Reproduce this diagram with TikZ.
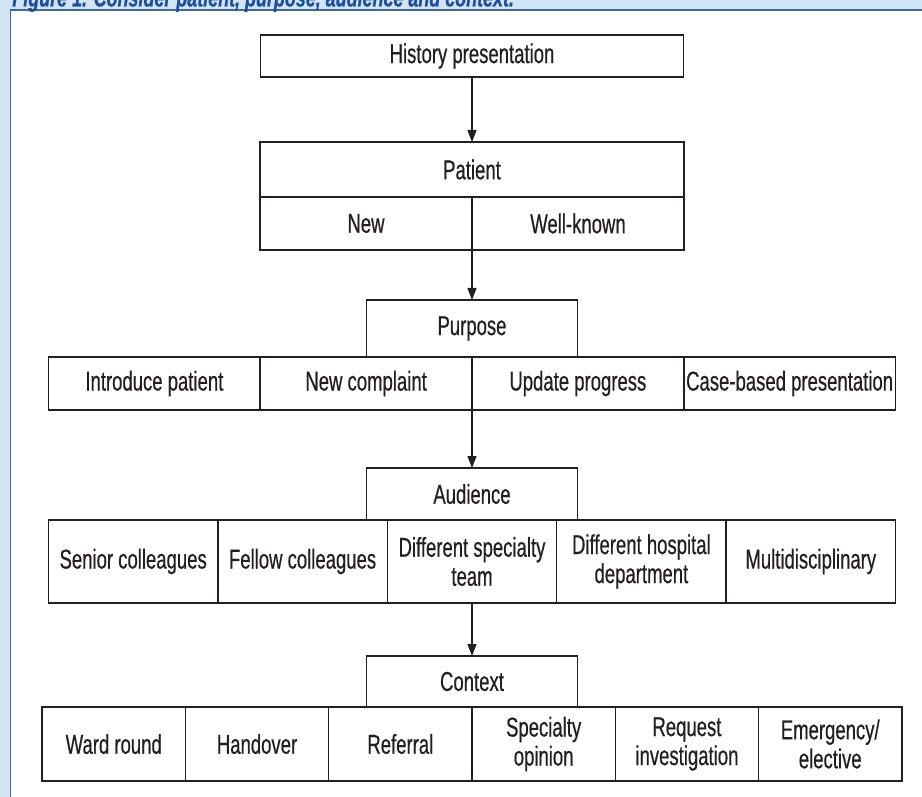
\documentclass[tikz,border=0pt]{standalone}
\usepackage{fontspec}
\setmainfont{Liberation Sans}[FakeStretch=0.68, FakeBold=0.5]
\usetikzlibrary{arrows.meta,positioning}
\usepackage{xcolor}

\definecolor{panelblue}{HTML}{D2E5F5}
\definecolor{rimblue}{HTML}{3D69A9}
\definecolor{titleblue}{HTML}{1E4E9C}
\definecolor{ink}{HTML}{231F20}
\newcommand\boxfont{\fontsize{15.5}{16.5}\selectfont}
\newcommand\titlefont{\fontsize{15}{16}\selectfont\bfseries\itshape}

\begin{document}
\begin{tikzpicture}[
    head/.style={draw=ink, line width=0.9pt, inner sep=0pt, outer sep=0pt, minimum width=4.22cm, align=center, font=\boxfont, text=ink},
    cell/.style={head, minimum height=1.06cm},
    aud/.style={cell, minimum width=3.388cm, minimum height=1.66cm},
    ctx/.style={cell, minimum width=2.866cm, minimum height=1.48cm},
    flow/.style={-{Triangle[length=2.4mm, width=1.8mm]}, line width=0.7pt, draw=ink}
]
\useasboundingbox (0,0) rectangle (18.44,-15.94);
\clip (0,0) rectangle (18.44,-15.94);

% page frame
\fill[panelblue] (0,0) rectangle (18.44,-15.94);
\filldraw[fill=white, draw=rimblue, line width=1.1pt] (0.21,-0.2) rectangle (19,-17);
\node[anchor=base west, inner sep=0pt, font=\titlefont, text=titleblue] (title) at (0.24,-0.13) {Figure 1. Consider patient, purpose, audience and context.};

% patient
\node[head, minimum width=8.46cm, minimum height=0.84cm] (hist) at (9.44,-1.12) {History presentation};
\node[head, minimum width=8.48cm, minimum height=1.1cm, below=1.3cm of hist] (patient) {Patient};
\node[cell, minimum width=4.24cm, anchor=north east] (new) at (patient.south) {New};
\node[cell, minimum width=4.24cm, anchor=north west] (known) at (patient.south) {Well-known};

% purpose
\node[head, minimum height=1.14cm, below=1cm of new.south east] (purpose) {Purpose};
\node[cell, minimum width=4.235cm, anchor=north east] (complaint) at (purpose.south) {New complaint};
\node[cell, minimum width=4.235cm, left=0pt of complaint] (intro) {Introduce patient};
\node[cell, minimum width=4.235cm, anchor=north west] (update) at (purpose.south) {Update progress};
\node[cell, minimum width=4.235cm, right=0pt of update] (casebased) {Case-based presentation};

% audience
\node[head, minimum height=1.04cm, below=1.16cm of complaint.south east] (audience) {Audience};
\node[aud, anchor=north] (specialty) at (audience.south) {Different specialty\\team};
\node[aud, left=0pt of specialty] (fellow) {Fellow colleagues};
\node[aud, left=0pt of fellow] (senior) {Senior colleagues};
\node[aud, right=0pt of specialty] (hospital) {Different hospital\\department};
\node[aud, right=0pt of hospital] (multi) {Multidisciplinary};

% context
\node[head, minimum height=1.02cm, below=1.06cm of specialty] (context) {Context};
\node[ctx, anchor=north east] (referral) at (context.south) {Referral};
\node[ctx, left=0pt of referral] (handover) {Handover};
\node[ctx, left=0pt of handover] (ward) {Ward round};
\node[ctx, anchor=north west] (opinion) at (context.south) {Specialty\\opinion};
\node[ctx, right=0pt of opinion] (request) {Request\\investigation};
\node[ctx, right=0pt of request] (emergency) {Emergency/\\elective};

\draw[flow] (hist) -- (patient);
\draw[flow] (new.south east) -- (purpose);
\draw[flow] (complaint.south east) -- (audience);
\draw[flow] (specialty) -- (context);
\end{tikzpicture}
\end{document}
